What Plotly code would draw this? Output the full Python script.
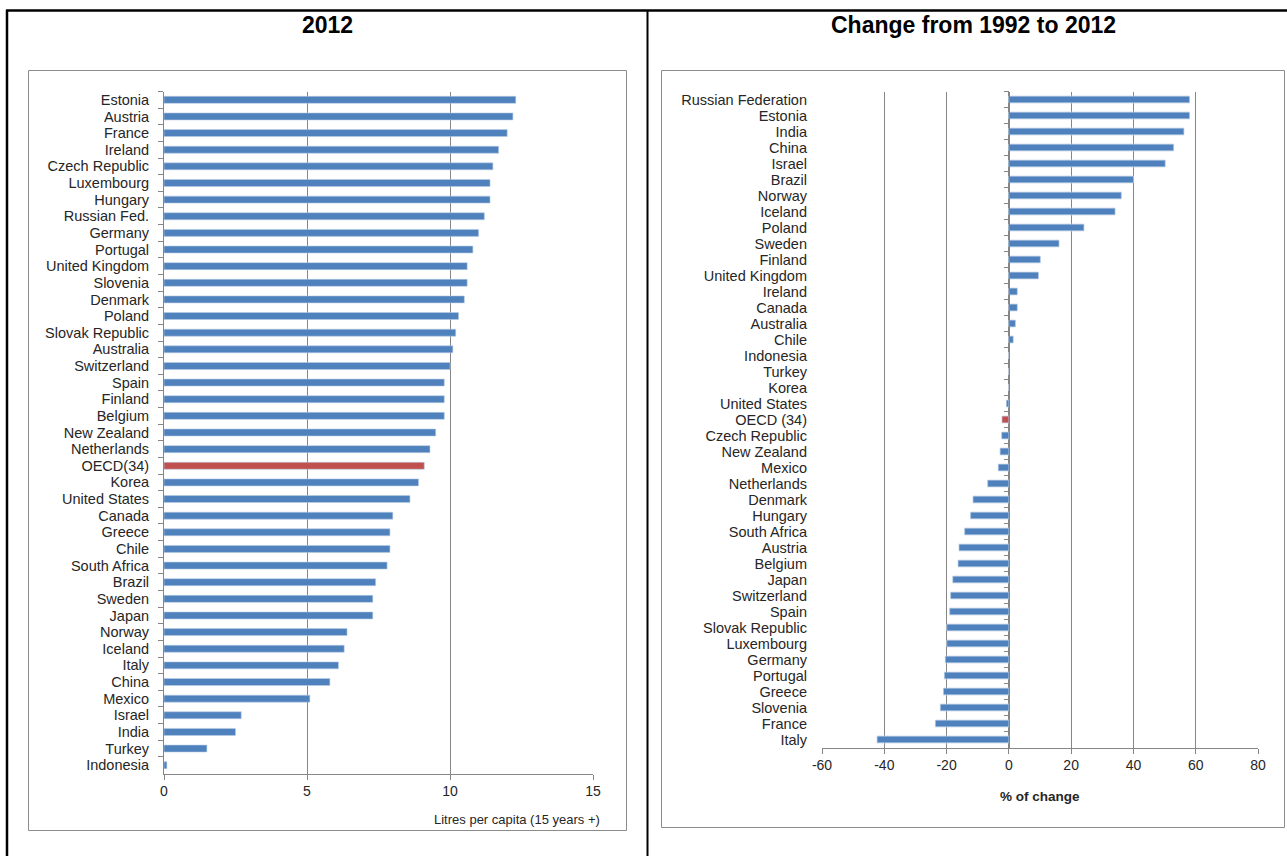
import plotly.graph_objects as go

W, H = 1287, 856

# ---------------- data ----------------
left_countries = ["Estonia", "Austria", "France", "Ireland", "Czech Republic", "Luxembourg",
                  "Hungary", "Russian Fed.", "Germany", "Portugal", "United Kingdom", "Slovenia",
                  "Denmark", "Poland", "Slovak Republic", "Australia", "Switzerland", "Spain",
                  "Finland", "Belgium", "New Zealand", "Netherlands", "OECD(34)", "Korea",
                  "United States", "Canada", "Greece", "Chile", "South Africa", "Brazil", "Sweden",
                  "Japan", "Norway", "Iceland", "Italy", "China", "Mexico", "Israel", "India",
                  "Turkey", "Indonesia"]
left_values = [12.3, 12.2, 12.0, 11.7, 11.5, 11.4, 11.4, 11.2, 11.0, 10.8, 10.6, 10.6,
               10.5, 10.3, 10.2, 10.1, 10.0, 9.8, 9.8, 9.8, 9.5, 9.3, 9.1, 8.9,
               8.6, 8.0, 7.9, 7.9, 7.8, 7.4, 7.3, 7.3, 6.4, 6.3, 6.1, 5.8, 5.1, 2.7, 2.5,
               1.5, 0.1]

right_countries = ["Russian Federation", "Estonia", "India", "China", "Israel", "Brazil", "Norway",
                   "Iceland", "Poland", "Sweden", "Finland", "United Kingdom", "Ireland", "Canada",
                   "Australia", "Chile", "Indonesia", "Turkey", "Korea", "United States",
                   "OECD (34)", "Czech Republic", "New Zealand", "Mexico", "Netherlands", "Denmark",
                   "Hungary", "South Africa", "Austria", "Belgium", "Japan", "Switzerland", "Spain",
                   "Slovak Republic", "Luxembourg", "Germany", "Portugal", "Greece", "Slovenia",
                   "France", "Italy"]
right_values = [58.0, 58.0, 56.2, 52.9, 50.2, 40.0, 36.1, 34.1, 24.1, 16.1, 10.1, 9.5, 2.7, 2.7,
                2.1, 1.4, 0.0, 0.0, 0.0, -0.8, -2.2, -2.3, -2.8, -3.4, -6.8, -11.5, -12.3, -14.2,
                -16.0, -16.3, -18.0, -18.7, -19.0, -19.9, -19.9, -20.4, -20.7, -21.0, -22.0, -23.6,
                -42.3]

left_ticks = [0, 5, 10, 15]
right_ticks = [-60, -40, -20, 0, 20, 40, 60, 80]
right_tick_text = ["-60", "-40", "-20", "0", "20", "40", "60", "80"]

BLUE = "#4F81BD"
RED = "#C0504D"
GRID = "#868686"
LBL = "#262626"
FONT = "Liberation Sans, Arial, sans-serif"


def px(x):
    return x / W


def py(y):
    return 1 - y / H


def colors(cats):
    return [RED if c.startswith("OECD") else BLUE for c in cats]


# domains (layout)
lx = [px(164), px(593)]
ly = [py(773.5), py(91.5)]
rx = [px(822), px(1258)]
ry = [py(747.5), py(91.5)]

fig = go.Figure()

fig.add_trace(go.Bar(
    x=left_values, y=left_countries, orientation="h",
    marker=dict(color=colors(left_countries), line=dict(width=0.6, color="#B9CDE5")),
    width=0.42, xaxis="x", yaxis="y", showlegend=False, hoverinfo="x+y"))

# invisible trace to carry category labels on the right chart
fig.add_trace(go.Bar(
    x=right_values, y=right_countries, orientation="h",
    marker=dict(color="rgba(0,0,0,0)"), width=0.42,
    xaxis="x2", yaxis="y2", showlegend=False, hoverinfo="skip"))

fig.add_trace(go.Bar(
    x=right_values, y=right_countries, orientation="h",
    marker=dict(color=colors(right_countries), line=dict(width=0.6, color="#B9CDE5")),
    width=0.42, xaxis="x2", yaxis="y3", showlegend=False, hoverinfo="x+y"))

nL = len(left_countries)
nR = len(right_countries)

zero_pos = rx[0] + (0 - right_ticks[0]) / (right_ticks[-1] - right_ticks[0]) * (rx[1] - rx[0])

fig.update_layout(
    width=W, height=H, autosize=False,
    margin=dict(l=0, r=0, t=0, b=0, pad=0, autoexpand=False),
    paper_bgcolor="white", plot_bgcolor="rgba(0,0,0,0)",
    font=dict(family=FONT, color=LBL),
    xaxis=dict(domain=lx, anchor="y", range=[left_ticks[0], left_ticks[-1]],
               tickvals=left_ticks, showgrid=True, gridcolor=GRID, gridwidth=1,
               showline=True, linecolor=GRID, linewidth=1, ticks="outside", ticklen=5,
               tickcolor=GRID, tickfont=dict(size=14, color=LBL), zeroline=False,
               automargin=False, fixedrange=True),
    yaxis=dict(domain=ly, anchor="x", type="category", categoryorder="array",
               categoryarray=left_countries, range=[nL - 0.5, -0.5],
               tickmode="linear", tick0=0, dtick=1,
               showline=True, linecolor=GRID, linewidth=1, ticks="outside", ticklen=5,
               tickcolor=GRID, tickson="boundaries", showgrid=False,
               tickfont=dict(size=14.5, color=LBL), ticklabelstandoff=11,
               automargin=False, fixedrange=True),
    xaxis2=dict(domain=rx, anchor="y2", range=[right_ticks[0], right_ticks[-1]],
                tickvals=right_ticks, ticktext=right_tick_text,
                showgrid=True, gridcolor=GRID, gridwidth=1,
                showline=True, linecolor=GRID, linewidth=1, ticks="outside", ticklen=5,
                tickcolor=GRID, tickfont=dict(size=14, color=LBL), zeroline=False,
                automargin=False, fixedrange=True),
    yaxis2=dict(domain=ry, anchor="x2", type="category", categoryorder="array",
                categoryarray=right_countries, range=[nR - 0.5, -0.5],
                tickmode="linear", tick0=0, dtick=1,
                showline=False, ticks="", showgrid=False,
                tickfont=dict(size=14.5, color=LBL), ticklabelstandoff=14,
                automargin=False, fixedrange=True),
    yaxis3=dict(overlaying="y2", anchor="free", position=zero_pos, side="left",
                type="category", categoryorder="array", categoryarray=right_countries,
                range=[nR - 0.5, -0.5], tickmode="linear", tick0=0, dtick=1,
                showline=True, linecolor=GRID, linewidth=1,
                ticks="outside", ticklen=5, tickcolor=GRID, tickson="boundaries",
                showticklabels=False, showgrid=False, automargin=False, fixedrange=True),
)

# titles and axis captions
fig.add_annotation(text="<b>2012</b>", x=px(327), y=py(25), xref="paper", yref="paper",
                   xanchor="center", yanchor="middle",
                   showarrow=False, font=dict(size=23, color="black", family=FONT))
fig.add_annotation(text="<b>Change from 1992 to 2012</b>", x=px(973), y=py(25), xref="paper",
                   yref="paper", xanchor="center", yanchor="middle",
                   showarrow=False, font=dict(size=23, color="black", family=FONT))
fig.add_annotation(text="Litres per capita (15 years +)", x=px(602), y=py(819), xref="paper",
                   yref="paper", xanchor="right", yanchor="middle", showarrow=False,
                   font=dict(size=13, color=LBL, family=FONT))
fig.add_annotation(text="<b>% of change</b>", x=(rx[0] + rx[1]) / 2, y=py(796), xref="paper",
                   yref="paper", xanchor="center", yanchor="middle", showarrow=False,
                   font=dict(size=13.5, color=LBL, family=FONT))

# frame decorations (table borders and chart boxes)
shapes = [
    dict(type="line", x0=px(7), x1=px(7), y0=py(10), y1=py(856), line=dict(color="black", width=2.5)),
    dict(type="line", x0=px(6), x1=px(1287), y0=py(10.5), y1=py(10.5), line=dict(color="black", width=2.5)),
    dict(type="line", x0=px(647.5), x1=px(647.5), y0=py(10), y1=py(856), line=dict(color="black", width=2)),
    dict(type="rect", x0=px(28.5), x1=px(626.5), y0=py(70.5), y1=py(830.5), line=dict(color="#8C8C8C", width=1)),
    dict(type="rect", x0=px(661.5), x1=px(1284.5), y0=py(70.5), y1=py(827.5), line=dict(color="#8C8C8C", width=1)),
]
for s in shapes:
    s.update(xref="paper", yref="paper", layer="above")
    fig.add_shape(**s)

fig.write_html(
    "out.html",
    config={"displayModeBar": False},
    post_script="document.body.style.margin='0';document.body.style.overflow='hidden';",
)
